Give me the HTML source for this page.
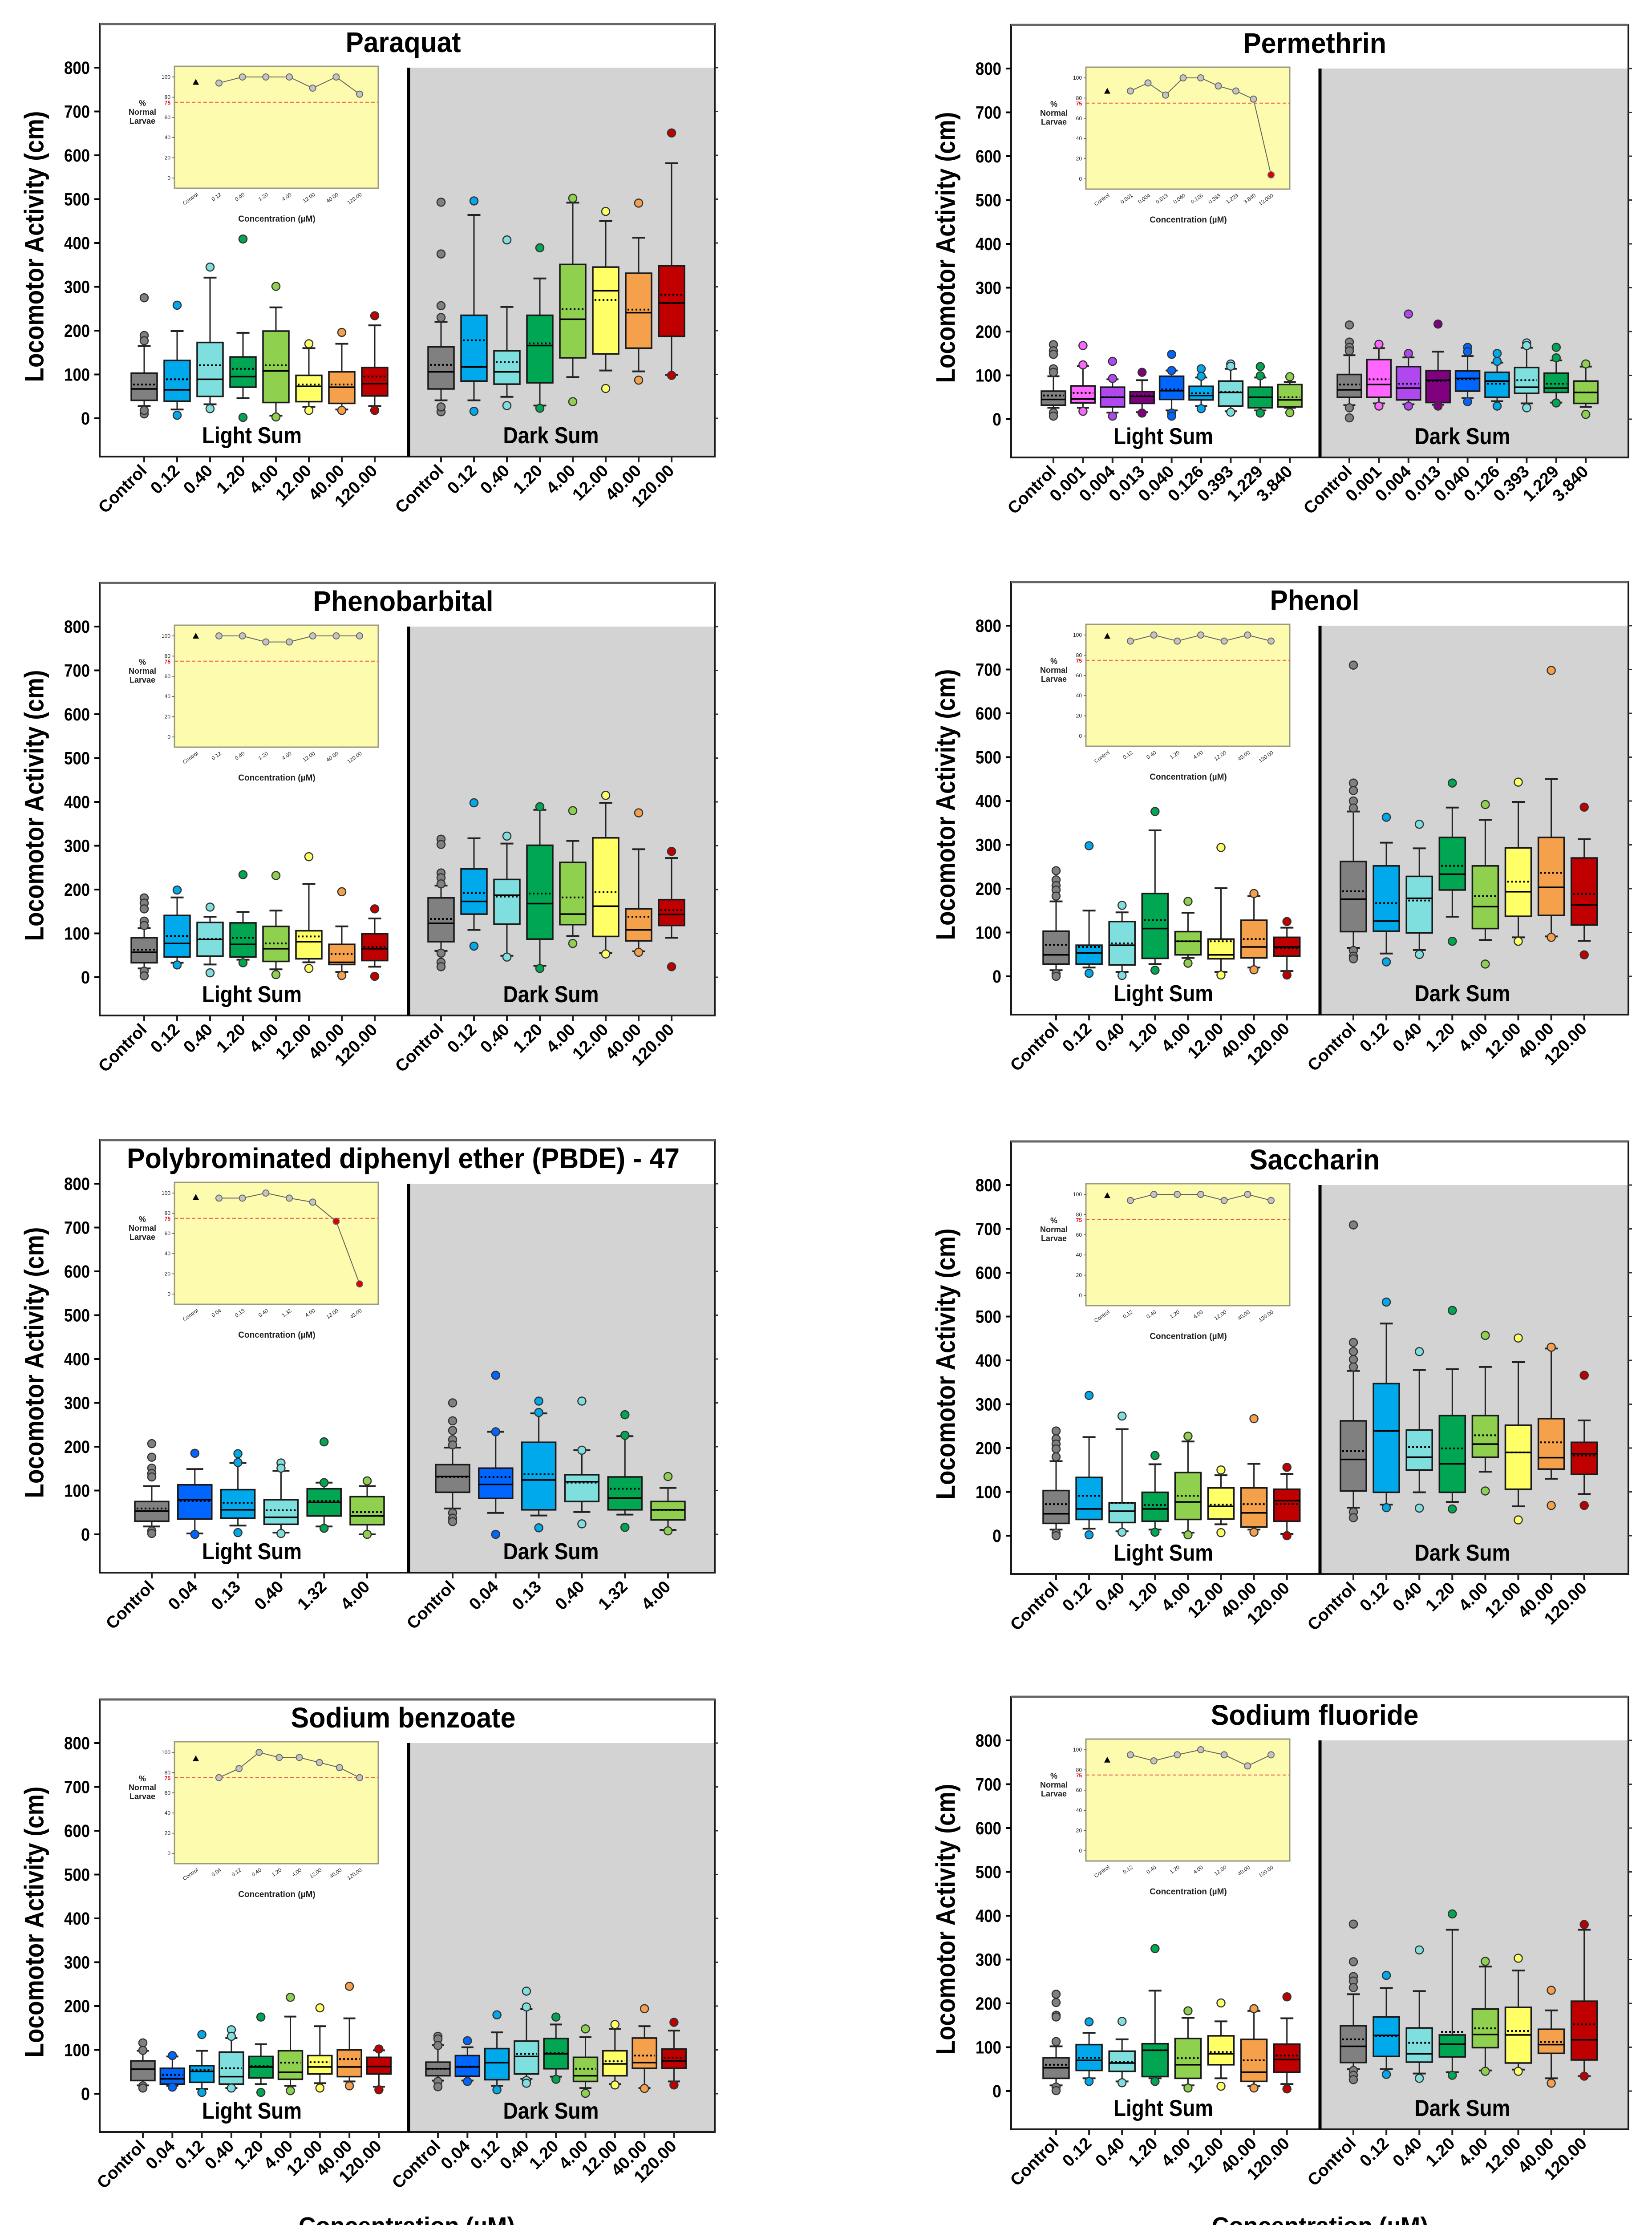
<!DOCTYPE html>
<html><head><meta charset="utf-8"><title>Locomotor Activity</title>
<style>html,body{margin:0;padding:0;background:#fff;overflow:hidden;width:3712px;height:5072px}svg{display:block}text{font-family:"Liberation Sans",Arial,sans-serif}</style></head>
<body>
<svg id="fig" xmlns="http://www.w3.org/2000/svg" width="3712" height="5072" viewBox="0 0 3712 5072"></svg>
<script>
// ---- data: rows are [whiskerLow, q1, median, q3, whiskerHigh, mean] ----
const concStd = ['Control','0.12','0.40','1.20','4.00','12.00','40.00','120.00'];
const concPerm = ['Control','0.001','0.004','0.013','0.040','0.126','0.393','1.229','3.840'];
const concPBDE = ['Control','0.04','0.13','0.40','1.32','4.00'];
const concBenz = ['Control','0.04','0.12','0.40','1.20','4.00','12.00','40.00','120.00'];
const insetStd = ['Control','0.12','0.40','1.20','4.00','12.00','40.00','120.00'];
const insetPerm = ['Control','0.001','0.004','0.013','0.040','0.126','0.393','1.229','3.840','12.000'];
const insetPBDE = ['Control','0.04','0.13','0.40','1.32','4.00','13.00','40.00'];
const insetBenz = ['Control','0.04','0.12','0.40','1.20','4.00','12.00','40.00','120.00'];
const colStd = ['#808080','#00a9ec','#7fdfdf','#00a651','#8fd14f','#ffff66','#f5a04a','#c00000'];
const colPerm = ['#808080','#ff66ff','#b048f0','#800080','#0066ff','#00a9ec','#7fdfdf','#00a651','#8fd14f'];
const colPBDE = ['#808080','#0066ff','#00a9ec','#7fdfdf','#00a651','#8fd14f'];
const colBenz = ['#808080','#0066ff','#00a9ec','#7fdfdf','#00a651','#8fd14f','#ffff66','#f5a04a','#c00000'];

const paraquatLight = [[28,41,67,103,165,77],[20,39,65,132,199,89],[32,50,89,173,321,121],[46,71,95,140,195,113],[6,36,108,199,253,121],[26,38,73,98,160,77],[20,34,71,106,170,77],[28,51,79,116,212,95]];
const paraquatDark = [[41,67,106,163,220,122],[41,85,117,235,464,178],[49,78,106,154,254,128],[29,81,166,235,319,171],[94,138,226,351,492,249],[109,147,291,345,450,270],[107,160,241,331,412,248],[99,187,263,348,582,282]];
const paraquatLightOut = [[275,189,177,10,18],[258,7],[345,22],[409,2],[301,3],[170,18],[196,18],[234,18]];
const paraquatDarkOut = [[493,375,257,230,15,26],[496,16],[407,29],[389,23],[502,38],[472,68],[491,87],[651,98]];
const paraquatInset = [95,94,100,100,100,89,100,83];

const permethrinLight = [[26,32,45,64,98,54],[26,37,46,76,121,60],[15,28,50,73,91,50],[16,36,52,63,89,54],[20,45,65,98,111,68],[30,44,54,75,95,59],[18,30,61,87,115,63],[20,26,50,73,95,50],[26,28,44,79,85,50]];
const permethrinDark = [[32,50,67,102,146,79],[36,50,79,136,162,91],[34,44,71,120,141,81],[33,38,89,111,154,87],[48,64,93,110,144,91],[41,50,87,107,129,81],[36,59,73,118,163,89],[38,61,71,105,134,81],[28,36,61,87,120,61]];
const permethrinLightOut = [[170,156,148,115,107,15,7],[168,124,18],[132,93,7],[107,14],[148,111,14,7],[115,98,24],[126,121,16],[120,99,14],[97,15]];
const permethrinDarkOut = [[215,176,164,156,26,3],[171,30],[240,150,30],[217,30],[164,154,40],[150,132,30],[174,168,26],[164,140,37],[126,11]];
const permethrinInset = [87,87,95,83,100,100,92,87,79,4];

const phenobarbitalLight = [[20,33,57,90,112,63],[33,46,77,141,182,94],[29,48,86,125,138,87],[40,46,75,124,149,90],[18,36,65,116,152,77],[34,42,81,106,213,93],[12,29,34,75,116,53],[24,38,65,99,134,69]];
const phenobarbitalDark = [[60,81,123,181,209,133],[108,144,173,247,317,192],[49,121,187,223,305,184],[26,87,168,301,382,191],[94,120,144,262,311,182],[55,93,162,318,398,194],[59,83,108,156,292,138],[90,118,143,177,272,153]];
const phenobarbitalLightOut = [[181,169,156,128,118,14,3],[199,28],[160,10],[234,33],[232,6],[275,20],[195,4],[156,2]];
const phenobarbitalDarkOut = [[315,303,238,227,213,55,34,24],[398,71],[322,46],[389,20],[380,77],[415,53],[375,57],[287,24]];
const phenobarbitalInset = [100,100,100,94,94,100,100,100];

const phenolLight = [[14,28,49,103,171,72],[20,28,53,71,150,67],[10,26,71,125,146,75],[28,41,109,189,333,128],[42,49,80,102,145,80],[10,40,49,85,201,80],[20,42,67,128,183,85],[12,46,67,89,111,65]];
const phenolDark = [[65,102,176,262,376,194],[52,103,126,252,305,167],[60,99,178,228,292,173],[136,197,233,317,385,252],[83,109,159,252,357,183],[89,137,193,293,398,216],[91,139,203,317,450,236],[81,117,163,270,313,188]];
const phenolLightOut = [[241,220,207,197,183,6,0],[298,7],[162,2],[376,14],[171,30],[294,3],[189,15],[125,3]];
const phenolDarkOut = [[710,441,424,400,384,59,46,40],[363,33],[347,50],[441,80],[392,28],[443,80],[698,89],[386,49]];
const phenolInset = [99,94,100,94,100,94,100,94];

const pbdeLight = [[18,30,53,75,110,59],[2,35,79,113,149,76],[20,37,56,102,163,72],[4,23,39,79,145,55],[18,42,73,104,118,76],[0,22,42,86,110,51]];
const pbdeDark = [[59,96,132,159,198,131],[49,82,114,151,234,131],[43,56,124,210,276,137],[51,75,120,136,192,118],[45,56,83,131,224,104],[10,33,56,75,106,56]];
const pbdeLightOut = [[207,176,151,139,131,8,2],[185,0],[184,164,4],[163,151,2],[211,118,14],[122,0]];
const pbdeDarkOut = [[300,259,237,216,204,49,37,29],[363,234,0],[304,278,15],[304,192,24],[273,226,16],[132,8]];
const pbdeInset = [96,95,95,100,95,91,72,10];

const saccharinLight = [[14,28,50,103,170,72],[16,37,61,133,225,91],[10,30,56,75,243,75],[14,33,61,99,163,70],[7,37,77,144,215,91],[26,38,67,109,138,71],[14,20,52,109,164,72],[4,33,80,106,141,72]];
const saccharinDark = [[64,102,174,262,376,193],[71,99,239,347,484,239],[99,150,179,241,378,202],[77,99,164,274,380,199],[146,179,209,274,385,229],[67,106,190,252,396,190],[130,152,178,267,427,213],[95,140,187,213,263,183]];
const saccharinLightOut = [[239,221,209,198,180,6,0],[320,2],[273,8],[183,8],[227,2],[150,7],[267,8],[156,0]];
const saccharinDarkOut = [[709,441,420,402,385,54,41],[533,64],[420,63],[514,61],[457,102],[451,36],[430,69],[366,69]];
const saccharinInset = [99,94,100,100,100,94,100,94];

const benzoateLight = [[19,30,56,75,98,56],[18,22,34,58,85,43],[11,26,51,64,98,54],[13,22,39,95,127,58],[22,36,61,85,113,64],[18,33,49,98,176,71],[24,45,61,87,154,72],[28,39,61,100,172,79],[16,45,62,83,99,62]];
const benzoateDark = [[30,41,57,72,111,57],[30,40,61,87,106,62],[18,32,71,103,140,71],[34,45,85,120,193,91],[39,57,91,126,158,93],[13,28,41,83,129,57],[22,41,68,98,148,74],[13,58,71,127,154,87],[28,58,75,102,144,82]];
const benzoateLightOut = [[116,99,18,13],[87,15],[135,3],[146,131,13],[175,3],[220,7],[196,13],[245,18],[102,9]];
const benzoateDarkOut = [[131,125,110,28,16],[121,28],[180,9],[234,198,30,24],[175,33],[148,1],[158,20],[194,12],[163,20]];
const benzoateInset = [94,75,84,100,95,95,90,85,75];

const fluorideLight = [[13,29,53,76,102,60],[29,47,70,106,133,76],[22,45,64,91,118,66],[29,33,93,108,229,93],[13,29,60,120,167,75],[29,60,85,126,159,89],[11,22,43,118,183,70],[16,43,72,107,166,81]];
const fluorideDark = [[50,65,102,149,221,118],[50,79,127,169,235,125],[40,66,85,144,228,110],[43,78,107,128,368,135],[47,99,129,187,284,143],[49,64,128,191,275,137],[29,86,106,141,184,112],[34,71,117,205,368,152]];
const fluorideLightOut = [[221,202,173,169,113,9,1],[158,22],[159,19],[325,22],[183,7],[201,11],[188,7],[215,5]];
const fluorideDarkOut = [[381,295,261,251,236,47,36,26],[264,38],[322,29],[404,36],[296,45],[303,45],[230,18],[380,34]];
const fluorideInset = [90,95,89,95,100,95,84,95];

// ---- layout (positions, not data) ----
const LEFT = {L:224, R:1606, D:918};
const RIGHT = {L:2272, R:3659, D:2966};
const panels = [
 {id:'paraquat', title:'Paraquat', tl:259, col:LEFT, top:54, ls:324, ds:991, step:74, bw:58, cats:concStd, cols:colStd, light:paraquatLight, dark:paraquatDark, lo:paraquatLightOut, do_:paraquatDarkOut, ins:paraquatInset, insCats:insetStd},
 {id:'permethrin', title:'Permethrin', tl:322, col:RIGHT, top:56, ls:2367, ds:3032, step:66.4, bw:54, cats:concPerm, cols:colPerm, light:permethrinLight, dark:permethrinDark, lo:permethrinLightOut, do_:permethrinDarkOut, ins:permethrinInset, insCats:insetPerm},
 {id:'phenobarbital', title:'Phenobarbital', tl:405, col:LEFT, top:1310, ls:324, ds:991, step:74, bw:58, cats:concStd, cols:colStd, light:phenobarbitalLight, dark:phenobarbitalDark, lo:phenobarbitalLightOut, do_:phenobarbitalDarkOut, ins:phenobarbitalInset, insCats:insetStd},
 {id:'phenol', title:'Phenol', tl:201, col:RIGHT, top:1308, ls:2373, ds:3041, step:74.1, bw:58, cats:concStd, cols:colStd, light:phenolLight, dark:phenolDark, lo:phenolLightOut, do_:phenolDarkOut, ins:phenolInset, insCats:insetStd},
 {id:'pbde', title:'Polybrominated diphenyl ether (PBDE) - 47', tl:1242, col:LEFT, top:2562, ls:341, ds:1017, step:96.8, bw:76, cats:concPBDE, cols:colPBDE, light:pbdeLight, dark:pbdeDark, lo:pbdeLightOut, do_:pbdeDarkOut, ins:pbdeInset, insCats:insetPBDE},
 {id:'saccharin', title:'Saccharin', tl:293, col:RIGHT, top:2565, ls:2373, ds:3041, step:74.1, bw:58, cats:concStd, cols:colStd, light:saccharinLight, dark:saccharinDark, lo:saccharinLightOut, do_:saccharinDarkOut, ins:saccharinInset, insCats:insetStd},
 {id:'sodium-benzoate', title:'Sodium benzoate', tl:505, col:LEFT, top:3819, ls:321, ds:984, step:66.3, bw:54, cats:concBenz, cols:colBenz, light:benzoateLight, dark:benzoateDark, lo:benzoateLightOut, do_:benzoateDarkOut, ins:benzoateInset, insCats:insetBenz},
 {id:'sodium-fluoride', title:'Sodium fluoride', tl:467, col:RIGHT, top:3813, ls:2373, ds:3041, step:74.1, bw:58, cats:concStd, cols:colStd, light:fluorideLight, dark:fluorideDark, lo:fluorideLightOut, do_:fluorideDarkOut, ins:fluorideInset, insCats:insetStd}
];

const NS='http://www.w3.org/2000/svg';
const svg=document.getElementById('fig');
function mk(tag, attrs, parent, txt){
  const e=document.createElementNS(NS,tag);
  for(const k in attrs) e.setAttribute(k, attrs[k]);
  if(txt!==undefined) e.textContent=txt;
  (parent||svg).appendChild(e);
  return e;
}

panels.forEach(p=>{
  const L=p.col.L, R=p.col.R, D=p.col.D, top=p.top, bottom=top+972;
  const y800=top+98, y0=top+886;
  const yv=v=>y0-v*(y0-y800)/800;
  const g=mk('g',{});
  
  
  mk('rect',{x:L,y:top,width:R-L,height:bottom-top,fill:'#fff'},g);
  const gr=mk('rect',{x:D,y:y800,width:R-D,height:bottom-y800,fill:'#d3d3d3'},g);
  
  
  const fr=mk('rect',{x:L,y:top,width:R-L,height:bottom-top,fill:'none',stroke:'#1a1a1a','stroke-width':4},g);
  
  
  mk('line',{x1:L,y1:top,x2:R,y2:top,stroke:'#666','stroke-width':5},g);
  const dv=mk('line',{x1:D,y1:y800,x2:D,y2:bottom,stroke:'#000','stroke-width':7},g);
  
  
  const t=mk('text',{x:L+682,y:top+63,'text-anchor':'middle','font-size':64,'font-weight':'bold',textLength:p.tl,lengthAdjust:'spacingAndGlyphs'},g,p.title);
  
  
  for(let v=0; v<=800; v+=100){
    const y=yv(v);
    mk('line',{x1:L-12,y1:y,x2:L,y2:y,stroke:'#000','stroke-width':4},g);
    mk('line',{x1:R,y1:y,x2:R+8,y2:y,stroke:'#333','stroke-width':3},g);
    const tl=mk('text',{x:L-22,y:y+14,'text-anchor':'end','font-size':40,'font-weight':'bold',textLength:58,lengthAdjust:'spacingAndGlyphs'},g,String(v));
    if(v<100){tl.setAttribute('textLength',20);}
    
    
  }
  const yc=(y800+y0)/2+8, yx=L-147;
  const yt=mk('text',{x:yx,y:yc,'text-anchor':'middle','dominant-baseline':'central','font-size':60,'font-weight':'bold',transform:`rotate(-90 ${yx} ${yc})`,textLength:609,lengthAdjust:'spacingAndGlyphs'},g,'Locomotor Activity (cm)');
  
  
  const ls=mk('text',{x:L+342,y:top+942,'text-anchor':'middle','font-size':52,'font-weight':'bold',textLength:224,lengthAdjust:'spacingAndGlyphs'},g,'Light Sum');
  
  
  const dsl=mk('text',{x:L+1014,y:top+942,'text-anchor':'middle','font-size':52,'font-weight':'bold',textLength:215,lengthAdjust:'spacingAndGlyphs'},g,'Dark Sum');
  
  
  [[p.light,p.lo,p.ls,'light'],[p.dark,p.do_,p.ds,'dark']].forEach(([stats,outs,start,grp])=>{
    stats.forEach((s,i)=>{
      const c=start+i*p.step, bw=p.bw, col=p.cols[i];
      const bg=mk('g',{},g);
      
      
      const cw=bw*0.5;
      mk('line',{x1:c,y1:yv(s[3]),x2:c,y2:yv(s[4]),stroke:'#222','stroke-width':3},bg);
      mk('line',{x1:c,y1:yv(s[1]),x2:c,y2:yv(s[0]),stroke:'#222','stroke-width':3},bg);
      mk('line',{x1:c-cw/2,y1:yv(s[4]),x2:c+cw/2,y2:yv(s[4]),stroke:'#222','stroke-width':4},bg);
      mk('line',{x1:c-cw/2,y1:yv(s[0]),x2:c+cw/2,y2:yv(s[0]),stroke:'#222','stroke-width':4},bg);
      mk('rect',{x:c-bw/2,y:yv(s[3]),width:bw,height:yv(s[1])-yv(s[3]),fill:col,stroke:'#1a1a1a','stroke-width':3.5},bg);
      mk('line',{x1:c-bw/2,y1:yv(s[2]),x2:c+bw/2,y2:yv(s[2]),stroke:'#000','stroke-width':3.5},bg);
      mk('line',{x1:c-bw/2+4,y1:yv(s[5]),x2:c+bw/2-4,y2:yv(s[5]),stroke:'#000','stroke-width':4,'stroke-dasharray':'4 5'},bg);
      (outs[i]||[]).forEach(v=>{
        const o=mk('circle',{cx:c,cy:yv(v),r:9,fill:col,stroke:'#333','stroke-width':2.5},bg);
        
        
      });
      mk('line',{x1:c,y1:bottom,x2:c,y2:bottom+13,stroke:'#222','stroke-width':4},g);
      const lx=c+8, ly=bottom+34;
      const xl=mk('text',{x:lx,y:ly,'text-anchor':'end','font-size':38,'font-weight':'bold',transform:`rotate(-45 ${lx} ${ly})`},g,p.cats[i]);
      
      
    });
  });
  const ix=L+168, iy=top+95, iw=458, ih=274;
  const ig=mk('g',{},g);
  
  
  mk('rect',{x:ix,y:iy,width:iw,height:ih,fill:'#fdfbad',stroke:'#9a9a80','stroke-width':3},ig);
  const iv=v=>top+346-v*2.27;
  for(let v=0; v<=100; v+=20){
    mk('line',{x1:ix-5,y1:iv(v),x2:ix,y2:iv(v),stroke:'#555','stroke-width':1.5},ig);
    mk('text',{x:ix-9,y:iv(v)+4,'text-anchor':'end','font-size':12,fill:'#222'},ig,String(v));
  }
  mk('line',{x1:ix,y1:iv(75),x2:ix+iw,y2:iv(75),stroke:'#f05050','stroke-width':2,'stroke-dasharray':'8 5'},ig);
  mk('text',{x:ix-9,y:iv(75)+5,'text-anchor':'end','font-size':12,fill:'#e00000','font-weight':'bold'},ig,'75');
  ['%','Normal','Larvae'].forEach((w,k)=>mk('text',{x:ix-72,y:top+184+k*20,'text-anchor':'middle','font-size':18,'font-weight':'bold',fill:'#222'},ig,w));
  const n=p.insCats.length-1;
  const ixs=j=> j===0 ? ix+48 : ix+100+(j-1)*316/(n-1);
  let pts='';
  for(let j=1;j<=n;j++) pts+=ixs(j)+','+iv(p.ins[j])+' ';
  mk('polyline',{points:pts.trim(),fill:'none',stroke:'#666','stroke-width':2},ig);
  const cxc=ixs(0), cyc=iv(p.ins[0]);
  const tri=mk('polygon',{points:`${cxc-7},${cyc+6} ${cxc+7},${cyc+6} ${cxc},${cyc-7}`,fill:'#000'},ig);
  
  
  for(let j=1;j<=n;j++){
    const pt=mk('circle',{cx:ixs(j),cy:iv(p.ins[j]),r:7,fill:p.ins[j]<75?'#e00000':'#c4c4c4',stroke:'#666','stroke-width':2},ig);
    
    
  }
  for(let j=0;j<=n;j++){
    const lx=ixs(j)+6, ly=iy+ih+16;
    mk('text',{x:lx,y:ly,'text-anchor':'end','font-size':12,fill:'#222',transform:`rotate(-35 ${lx} ${ly})`},ig,p.insCats[j]);
  }
  mk('text',{x:ix+230,y:top+444,'text-anchor':'middle','font-size':19,'font-weight':'bold',fill:'#222'},ig,'Concentration (µM)');
});

[[914,'left'],[2966,'right']].forEach(([x,s])=>{
  const t=mk('text',{x:x,y:5020,'text-anchor':'middle','font-size':54,'font-weight':'bold',textLength:486,lengthAdjust:'spacingAndGlyphs'},svg,'Concentration (µM)');
  
  
});
</script>
</body></html>
